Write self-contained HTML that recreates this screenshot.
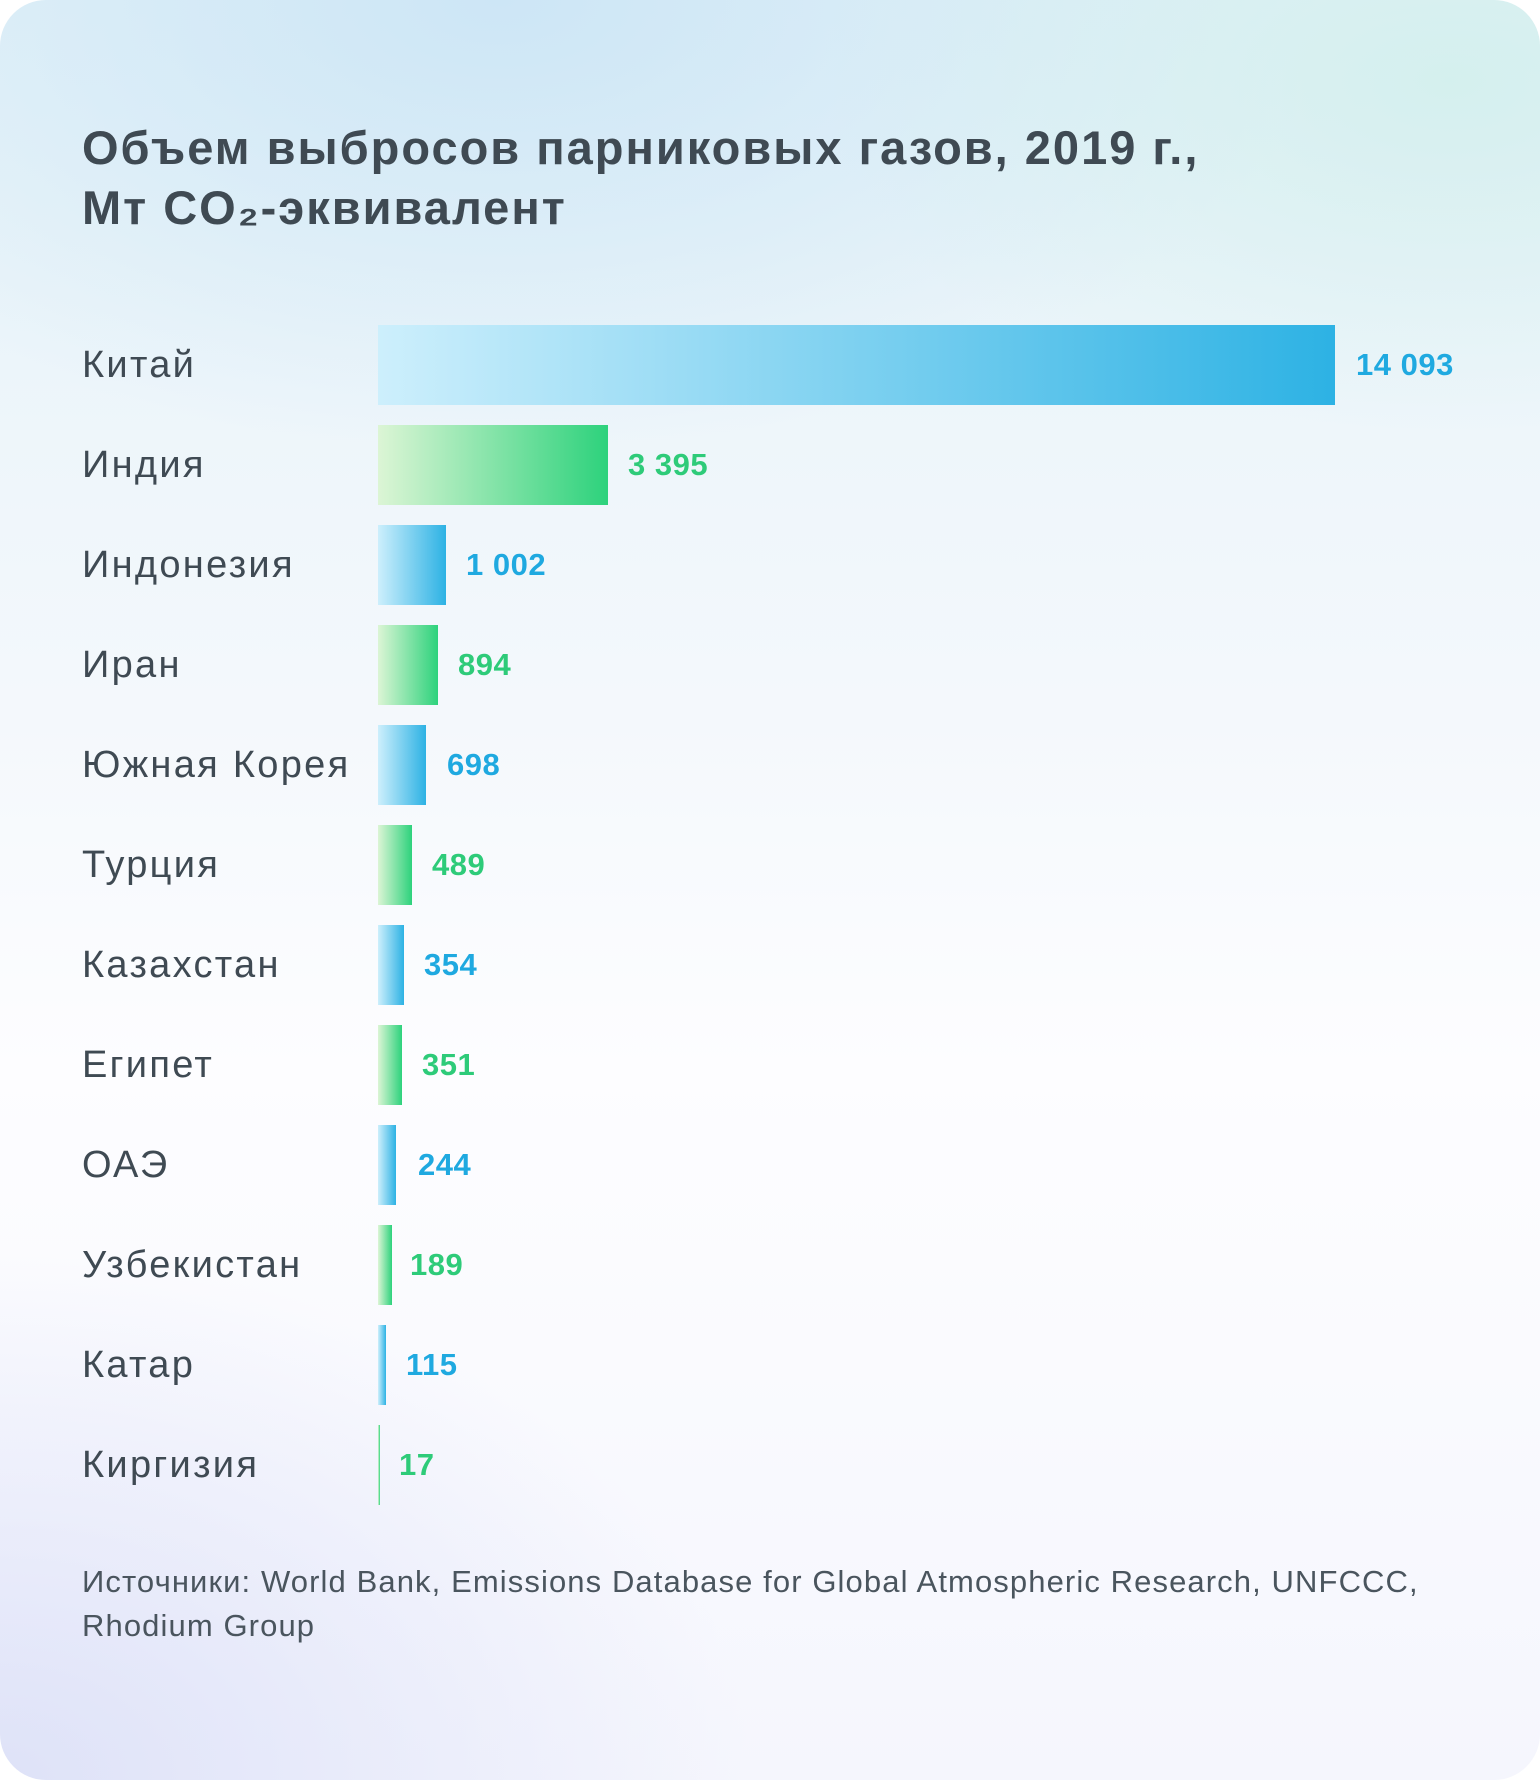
<!DOCTYPE html>
<html><head><meta charset="utf-8"><style>
html,body{margin:0;padding:0;width:1540px;height:1780px;background:#fff;overflow:hidden}
.card{position:absolute;left:0;top:0;width:1540px;height:1780px;border-radius:46px;overflow:hidden;
background:
radial-gradient(ellipse 900px 500px at 1450px 80px, rgba(205,238,234,0.7), rgba(205,238,234,0) 70%),
radial-gradient(ellipse 1100px 600px at 500px 0px, rgba(205,230,246,1), rgba(215,236,248,0) 75%),
radial-gradient(ellipse 1000px 700px at 0px 1780px, rgba(222,226,248,1), rgba(230,232,250,0) 75%),
linear-gradient(180deg,#e4f2f8 0%,#f4f8fc 40%,#fdfdff 60%,#f5f6fd 100%);
font-family:"Liberation Sans","Noto Sans CJK SC",sans-serif;color:#3f4a53}
.t{position:absolute;left:82px;font-size:47px;font-weight:bold;line-height:60px;top:118px;letter-spacing:2px}
.row{position:absolute;left:0;width:1540px;height:80px}
.lab{position:absolute;left:82px;top:0;line-height:80px;font-size:38px;letter-spacing:2.3px}
.bar{position:absolute;left:378px;top:0;height:80px}
.b{background:linear-gradient(90deg,#cdeffc,#2db2e4)}
.g{background:linear-gradient(90deg,#dcf5d5,#2dd27c)}
.v{position:absolute;top:0;line-height:80px;font-size:31px;font-weight:bold;letter-spacing:0.5px}
.vb{color:#1fa9e0}.vg{color:#2ecb79}
.src{position:absolute;left:82px;top:1560px;font-size:31px;line-height:44px;color:#4a555e;letter-spacing:1.1px}
</style></head><body><div class="card">
<div class="t">Объем выбросов парниковых газов, 2019 г.,<br>Мт CO₂-эквивалент</div>

<div class="row" style="top:325px"><div class="lab">Китай</div><div class="bar b" style="width:957px"></div><div class="v vb" style="left:1356px">14 093</div></div>
<div class="row" style="top:425px"><div class="lab">Индия</div><div class="bar g" style="width:230px"></div><div class="v vg" style="left:628px">3 395</div></div>
<div class="row" style="top:525px"><div class="lab">Индонезия</div><div class="bar b" style="width:68px"></div><div class="v vb" style="left:466px">1 002</div></div>
<div class="row" style="top:625px"><div class="lab">Иран</div><div class="bar g" style="width:60px"></div><div class="v vg" style="left:458px">894</div></div>
<div class="row" style="top:725px"><div class="lab">Южная Корея</div><div class="bar b" style="width:48px"></div><div class="v vb" style="left:447px">698</div></div>
<div class="row" style="top:825px"><div class="lab">Турция</div><div class="bar g" style="width:34px"></div><div class="v vg" style="left:432px">489</div></div>
<div class="row" style="top:925px"><div class="lab">Казахстан</div><div class="bar b" style="width:26px"></div><div class="v vb" style="left:424px">354</div></div>
<div class="row" style="top:1025px"><div class="lab">Египет</div><div class="bar g" style="width:24px"></div><div class="v vg" style="left:422px">351</div></div>
<div class="row" style="top:1125px"><div class="lab">ОАЭ</div><div class="bar b" style="width:18px"></div><div class="v vb" style="left:418px">244</div></div>
<div class="row" style="top:1225px"><div class="lab">Узбекистан</div><div class="bar g" style="width:14px"></div><div class="v vg" style="left:410px">189</div></div>
<div class="row" style="top:1325px"><div class="lab">Катар</div><div class="bar b" style="width:8px"></div><div class="v vb" style="left:406px">115</div></div>
<div class="row" style="top:1425px"><div class="lab">Киргизия</div><div class="bar g" style="width:2px"></div><div class="v vg" style="left:399px">17</div></div>

<div class="src">Источники: World Bank, Emissions Database for Global Atmospheric Research, UNFCCC,<br>Rhodium Group</div>
</div></body></html>
